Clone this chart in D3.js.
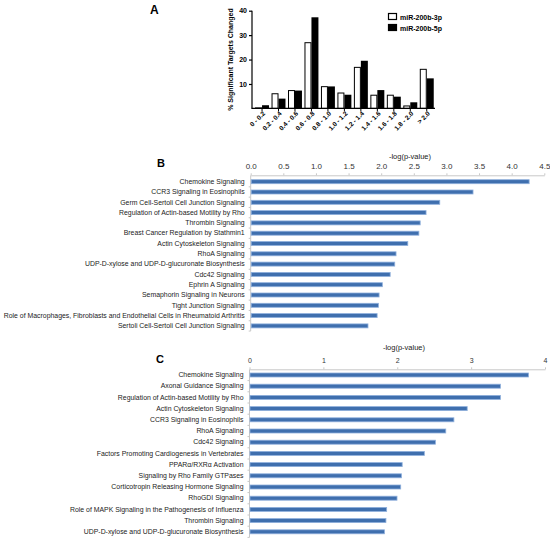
<!DOCTYPE html>
<html><head><meta charset="utf-8">
<script src="https://cdn.jsdelivr.net/npm/d3@7"></script>
<style>body{margin:0;background:#fff}svg{display:block}</style>
</head><body><svg id="c" width="550" height="538"></svg>
<script>
// ---- Panel A data ----
const binsA = ["0 - 0.2","0.2 - 0.4","0.4 - 0.6","0.6 - 0.8","0.8 - 1.0","1.0 - 1.2","1.2 - 1.4","1.4 - 1.6","1.6 - 1.8","1.8 - 2.0","> 2.0"];
const series3p = [0.2, 6.0, 7.3, 26.9, 8.9, 6.3, 16.8, 5.4, 5.4, 1.0, 16.0];
const series5p = [1.3, 4.0, 7.3, 37.3, 9.0, 5.6, 19.5, 7.5, 4.8, 2.5, 12.3];
const seriesNames = ["miR-200b-3p","miR-200b-5p"];
const ticksA = [10, 20, 30, 40];

// ---- Panel B data ----
const pathwaysB = ["Chemokine Signaling","CCR3 Signaling in Eosinophils","Germ Cell-Sertoli Cell Junction Signaling","Regulation of Actin-based Motility by Rho","Thrombin Signaling","Breast Cancer Regulation by Stathmin1","Actin Cytoskeleton Signaling","RhoA Signaling","UDP-D-xylose and UDP-D-glucuronate Biosynthesis","Cdc42 Signaling","Ephrin A Signaling","Semaphorin Signaling in Neurons","Tight Junction Signaling","Role of Macrophages, Fibroblasts and Endothelial Cells in Rheumatoid Arthritis","Sertoli Cell-Sertoli Cell Junction Signaling"];
const valuesB = [4.26, 3.40, 2.89, 2.68, 2.59, 2.57, 2.40, 2.22, 2.20, 2.13, 2.01, 1.96, 1.95, 1.93, 1.79];
const ticksB = ["0.0","0.5","1.0","1.5","2.0","2.5","3.0","3.5","4.0","4.5"];

// ---- Panel C data ----
const pathwaysC = ["Chemokine Signaling","Axonal Guidance Signaling","Regulation of Actin-based Motility by Rho","Actin Cytoskeleton Signaling","CCR3 Signaling in Eosinophils","RhoA Signaling","Cdc42 Signaling","Factors Promoting Cardiogenesis in Vertebrates","PPARα/RXRα Activation","Signaling by Rho Family GTPases","Corticotropin Releasing Hormone Signaling","RhoGDI Signaling","Role of MAPK Signaling in the Pathogenesis of Influenza","Thrombin Signaling","UDP-D-xylose and UDP-D-glucuronate Biosynthesis"];
const valuesC = [3.77, 3.39, 3.39, 2.94, 2.76, 2.65, 2.51, 2.36, 2.06, 2.05, 2.04, 1.99, 1.85, 1.84, 1.82];
const ticksC = ["0","1","2","3","4"];
const axisTitle = "-log(p-value)";

const svg = d3.select("#c");
const F = "Liberation Sans, Arial, sans-serif";

// ================= Panel A =================
{
  const g = svg.append("g");
  const x = d3.scaleBand().domain(binsA).range([253.8, 435]).paddingInner(0).paddingOuter(0);
  const xs = d3.scaleBand().domain(seriesNames).range([0, x.bandwidth()]).paddingInner(0).paddingOuter(0.18);
  const y = d3.scaleLinear().domain([0, 40]).range([108.4, 10.7]);

  g.append("text").attr("x", 150).attr("y", 14).attr("font-family", F).attr("font-weight", "bold")
    .attr("font-size", 12).text("A");

  const data = binsA.map((b, i) => ({bin: b, vals: [series3p[i], series5p[i]]}));
  const grp = g.selectAll("g.bin").data(data).join("g").attr("transform", d => `translate(${x(d.bin)},0)`);
  grp.selectAll("rect").data(d => d.vals.map((v, j) => ({s: seriesNames[j], v})))
    .join("rect")
    .attr("x", d => xs(d.s) + (d.s === seriesNames[0] ? 0.5 : 0))
    .attr("width", d => xs.bandwidth() - (d.s === seriesNames[0] ? 1 : 0))
    .attr("y", d => y(d.v))
    .attr("height", d => y(0) - y(d.v))
    .attr("fill", d => d.s === seriesNames[0] ? "#fff" : "#000")
    .attr("stroke", "#000").attr("stroke-width", d => d.s === seriesNames[0] ? 1 : 0);

  // y axis
  const ya = g.append("g").attr("transform", "translate(252,0)")
    .call(d3.axisLeft(y).tickValues(ticksA).tickSize(3).tickPadding(2));
  ya.select(".domain").attr("stroke", "#000").attr("stroke-width", 1.2).attr("d", `M0,${y(0)}V${y(40)}`);
  ya.selectAll(".tick line").attr("stroke", "#000").attr("stroke-width", 1.2);
  ya.selectAll("text").attr("font-family", F).attr("font-weight", "bold").attr("font-size", 7).attr("fill", "#000");

  // x axis
  const xa = g.append("g").attr("transform", `translate(0,${y(0)})`)
    .call(d3.axisBottom(x).tickSize(3).tickSizeOuter(0));
  xa.select(".domain").attr("stroke", "#000").attr("stroke-width", 1.2).attr("d", `M251.5,0H435`);
  xa.selectAll(".tick line").attr("stroke", "#000").attr("stroke-width", 1);
  xa.selectAll("text").attr("font-family", F).attr("font-weight", "bold").attr("font-size", 6.5).attr("fill", "#000")
    .attr("text-anchor", "end").attr("dy", null).attr("y", 5).attr("x", 0)
    .attr("transform", "rotate(-45)");
  xa.selectAll(".tick text").attr("transform", "translate(2,4) rotate(-45)").attr("y", 0).attr("x", 0).attr("dy", "0.35em");

  g.append("text").attr("transform", `translate(233,${(y(0) + y(40)) / 2}) rotate(-90)`)
    .attr("text-anchor", "middle").attr("font-family", F).attr("font-weight", "bold").attr("font-size", 7)
    .text("% Significant Targets Changed");

  // legend
  const lg = g.append("g").attr("transform", "translate(388,13)");
  seriesNames.forEach((s, i) => {
    lg.append("rect").attr("x", 0.5).attr("y", i * 11 + 0.5).attr("width", 8).attr("height", 6)
      .attr("fill", i === 0 ? "#fff" : "#000").attr("stroke", "#000").attr("stroke-width", 1.2);
    lg.append("text").attr("x", 12).attr("y", i * 11 + 6.5).attr("font-family", F).attr("font-weight", "bold")
      .attr("font-size", 7).text(s);
  });
}

// ================= Horizontal bar panels =================
function hbar(opts) {
  const g = svg.append("g");
  const x = d3.scaleLinear().domain([0, opts.max]).range([opts.x0, opts.x1]);
  const y = d3.scaleBand().domain(opts.cats).range([opts.yTop, opts.yTop + opts.step * opts.cats.length]);
  g.append("text").attr("x", opts.letterX).attr("y", opts.letterY).attr("font-family", F).attr("font-weight", "bold")
    .attr("font-size", 11).text(opts.letter);
  g.append("text").attr("x", opts.titleX).attr("y", opts.titleY).attr("text-anchor", "middle")
    .attr("font-family", F).attr("font-size", 7.5).attr("fill", "#222").text(axisTitle);
  const ax = g.append("g").attr("transform", `translate(0,${opts.axisY})`)
    .call(d3.axisTop(x).tickValues(opts.ticks.map(Number)).tickFormat((d, i) => opts.ticks[i]).tickSize(2).tickSizeOuter(0).tickPadding(4));
  ax.select(".domain").attr("stroke", "#c8c8c8").attr("stroke-width", 1);
  ax.selectAll(".tick line").attr("stroke", "#c8c8c8");
  ax.selectAll("text").attr("font-family", F).attr("font-size", opts.tickFont).attr("fill", "#333");
  // left axis
  const la = g.append("g").attr("transform", `translate(${opts.x0},0)`)
    .call(d3.axisLeft(y).tickSize(2).tickSizeOuter(0).tickPadding(4));
  la.select(".domain").attr("stroke", "#c8c8c8").attr("d", `M0,${opts.axisY}V${y.range()[1]}`);
  la.selectAll(".tick line").attr("stroke", "#c8c8c8").attr("transform", `translate(0,${y.step() / 2})`);
  la.selectAll("text").attr("font-family", F).attr("font-size", opts.labFont).attr("fill", "#222");
  const bh = 4;
  g.selectAll("rect.bar").data(opts.cats).join("rect").attr("class", "bar")
    .attr("x", opts.x0 + 0.5)
    .attr("y", d => y(d) + y.bandwidth() / 2 - bh / 2)
    .attr("width", (d, i) => x(opts.vals[i]) - opts.x0)
    .attr("height", bh)
    .attr("fill", "#3f6fae").attr("stroke", "#8fb0dc").attr("stroke-width", 0.8);
}

hbar({cats: pathwaysB, vals: valuesB, ticks: ticksB, max: 4.5, x0: 250.7, x1: 544.3,
  axisY: 175.3, yTop: 176.55, step: 10.3, letter: "B", letterX: 157, letterY: 167,
  titleX: 410, titleY: 159, tickFont: 8, labFont: 6.9});
hbar({cats: pathwaysC, vals: valuesC, ticks: ticksC, max: 4, x0: 249.5, x1: 545,
  axisY: 369.3, yTop: 369.4, step: 11.2, letter: "C", letterX: 156, letterY: 363,
  titleX: 404, titleY: 349.5, tickFont: 7, labFont: 6.9});
</script></body></html>
